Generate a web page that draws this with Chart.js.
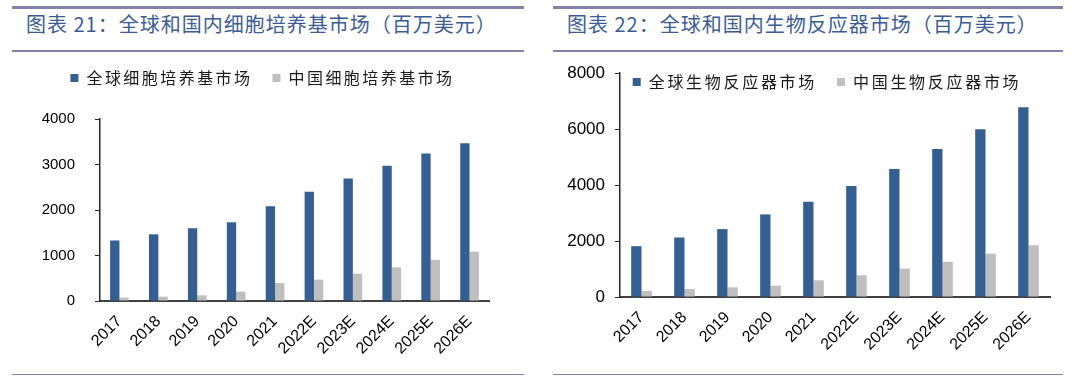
<!DOCTYPE html>
<html>
<head>
<meta charset="utf-8">
<script src="https://cdn.jsdelivr.net/npm/chart.js@4.4.1/dist/chart.umd.min.js"></script>
<style>
    body { margin: 0; background: #fff; width: 1080px; height: 376px; position: relative; overflow: hidden; }
    .rule { position: absolute; background: #8282aa; }
    .title { position: absolute; font-family: "Noto Sans CJK SC"; font-size: 20px; line-height: 24px; color: #3c5d93; letter-spacing: 1px; white-space: nowrap; }
    canvas { position: absolute; }
</style>
</head>
<body>
<div class="rule" style="left:12px;top:6px;width:512px;height:3px"></div>
<div class="title" style="left:26px;top:12px">图表 21：全球和国内细胞培养基市场（百万美元）</div>
<div class="rule" style="left:12px;top:50px;width:512px;height:2px"></div>
<div class="rule" style="left:12px;top:374px;width:512px;height:1px"></div>

<div class="rule" style="left:553px;top:6px;width:510px;height:3px"></div>
<div class="title" style="left:567px;top:12px">图表 22：全球和国内生物反应器市场（百万美元）</div>
<div class="rule" style="left:553px;top:50px;width:510px;height:2px"></div>
<div class="rule" style="left:553px;top:374px;width:510px;height:1px"></div>

<canvas id="culture-chart" width="540" height="326" style="left:0;top:50px"></canvas>
<canvas id="reactor-chart" width="540" height="326" style="left:540px;top:50px"></canvas>

<script>
// ---------------------------------------------------
// DATA (百万美元)
// ---------------------------------------------------
const years = [ '2017', '2018', '2019', '2020', '2021', '2022E', '2023E', '2024E', '2025E', '2026E' ];
const cultureGlobal = [ 1330, 1465, 1600, 1730, 2080, 2400, 2690, 2975, 3240, 3465 ];
const cultureChina = [ 75, 95, 125, 205, 395, 470, 600, 740, 905, 1085 ];
const reactorGlobal = [ 1815, 2125, 2425, 2950, 3405, 3965, 4575, 5290, 5995, 6780 ];
const reactorChina = [ 215, 285, 345, 405, 595, 775, 1015, 1255, 1550, 1850 ];
const cultureNames = [ '全球细胞培养基市场', '中国细胞培养基市场' ];
const reactorNames = [ '全球生物反应器市场', '中国生物反应器市场' ];
// ---------------------------------------------------
const blue = '#365f91';
const grey = '#bfbfbf';
const latin = "'Liberation Sans', Arial, sans-serif";
// ---------------------------------------------------
// legend: letter spacing, fixed box height, sideways shift
// ---------------------------------------------------
const legendBox = {
    id: 'legendBox',
    beforeInit: function ( chart, args, opts ) {
        const legend = chart.legend;
        const fit = legend.fit;
        legend.fit = function () {
            this.ctx.letterSpacing = opts.spacing;
            fit.call( this );
            this.ctx.letterSpacing = '0px';
            this.height = opts.height;
        };
        // no clipping here, the items may sit lower than the shortened box
        legend.draw = function () {
            if ( !this.options.display ) return;
            const ctx = this.ctx;
            ctx.save();
            ctx.translate( opts.shift, 0 );
            ctx.letterSpacing = opts.spacing;
            this._draw();
            ctx.restore();
            ctx.letterSpacing = '0px';
        };
    }
};
// ---------------------------------------------------
function makeChart( id, names, globalData, chinaData, s ) {
    return new Chart( document.getElementById( id ), {
        type: 'bar',
        data: {
            labels: years,
            datasets: [
                { label: names[ 0 ], data: globalData, backgroundColor: blue },
                { label: names[ 1 ], data: chinaData, backgroundColor: grey }
            ]
        },
        options: {
            responsive: false,
            animation: false,
            layout: { padding: s.padding },
            datasets: { bar: { barPercentage: 1, categoryPercentage: 0.48 } },
            plugins: {
                tooltip: { enabled: false },
                legendBox: { spacing: s.legendSpacing, height: s.legendHeight, shift: s.legendShift },
                legend: {
                    position: 'top',
                    labels: {
                        boxWidth: 8,
                        boxHeight: 8,
                        padding: 20,
                        color: '#1a1a1a',
                        font: { family: 'Noto Sans CJK SC', size: 16 }
                    }
                }
            },
            scales: {
                x: {
                    afterFit: function ( scale ) { scale.height = s.xHeight; },
                    grid: { display: false, drawTicks: false },
                    border: { color: '#404040', width: 2 },
                    ticks: {
                        autoSkip: false,
                        minRotation: 45,
                        maxRotation: 45,
                        padding: 11,
                        color: '#000',
                        font: { family: latin, size: 16 }
                    }
                },
                y: {
                    min: 0,
                    max: s.yMax,
                    afterFit: function ( scale ) { scale.width = s.yWidth; },
                    grid: { drawOnChartArea: false, tickLength: 5, color: '#262626' },
                    border: { color: '#262626', width: 1.5 },
                    ticks: {
                        stepSize: s.yStep,
                        padding: s.yPad,
                        color: '#000',
                        font: { family: latin, size: s.yFont },
                        callback: function ( value ) { return String( value ); }
                    }
                }
            }
        },
        plugins: [ legendBox ]
    });
}
// ---------------------------------------------------
makeChart( 'culture-chart', cultureNames, cultureGlobal, cultureChina, {
    yMax: 4000, yStep: 1000, yFont: 15, yPad: 20, yWidth: 100,
    padding: { left: 0, right: 51, top: 0, bottom: 0 },
    legendHeight: 69, legendShift: 18, legendSpacing: '2.45px', xHeight: 75
});
makeChart( 'reactor-chart', reactorNames, reactorGlobal, reactorChina, {
    yMax: 8000, yStep: 2000, yFont: 17, yPad: 10, yWidth: 80,
    padding: { left: 0, right: 30, top: 4, bottom: 0 },
    legendHeight: 19, legendShift: 32, legendSpacing: '2.7px', xHeight: 79
});
// ---------------------------------------------------
</script>
</body>
</html>
